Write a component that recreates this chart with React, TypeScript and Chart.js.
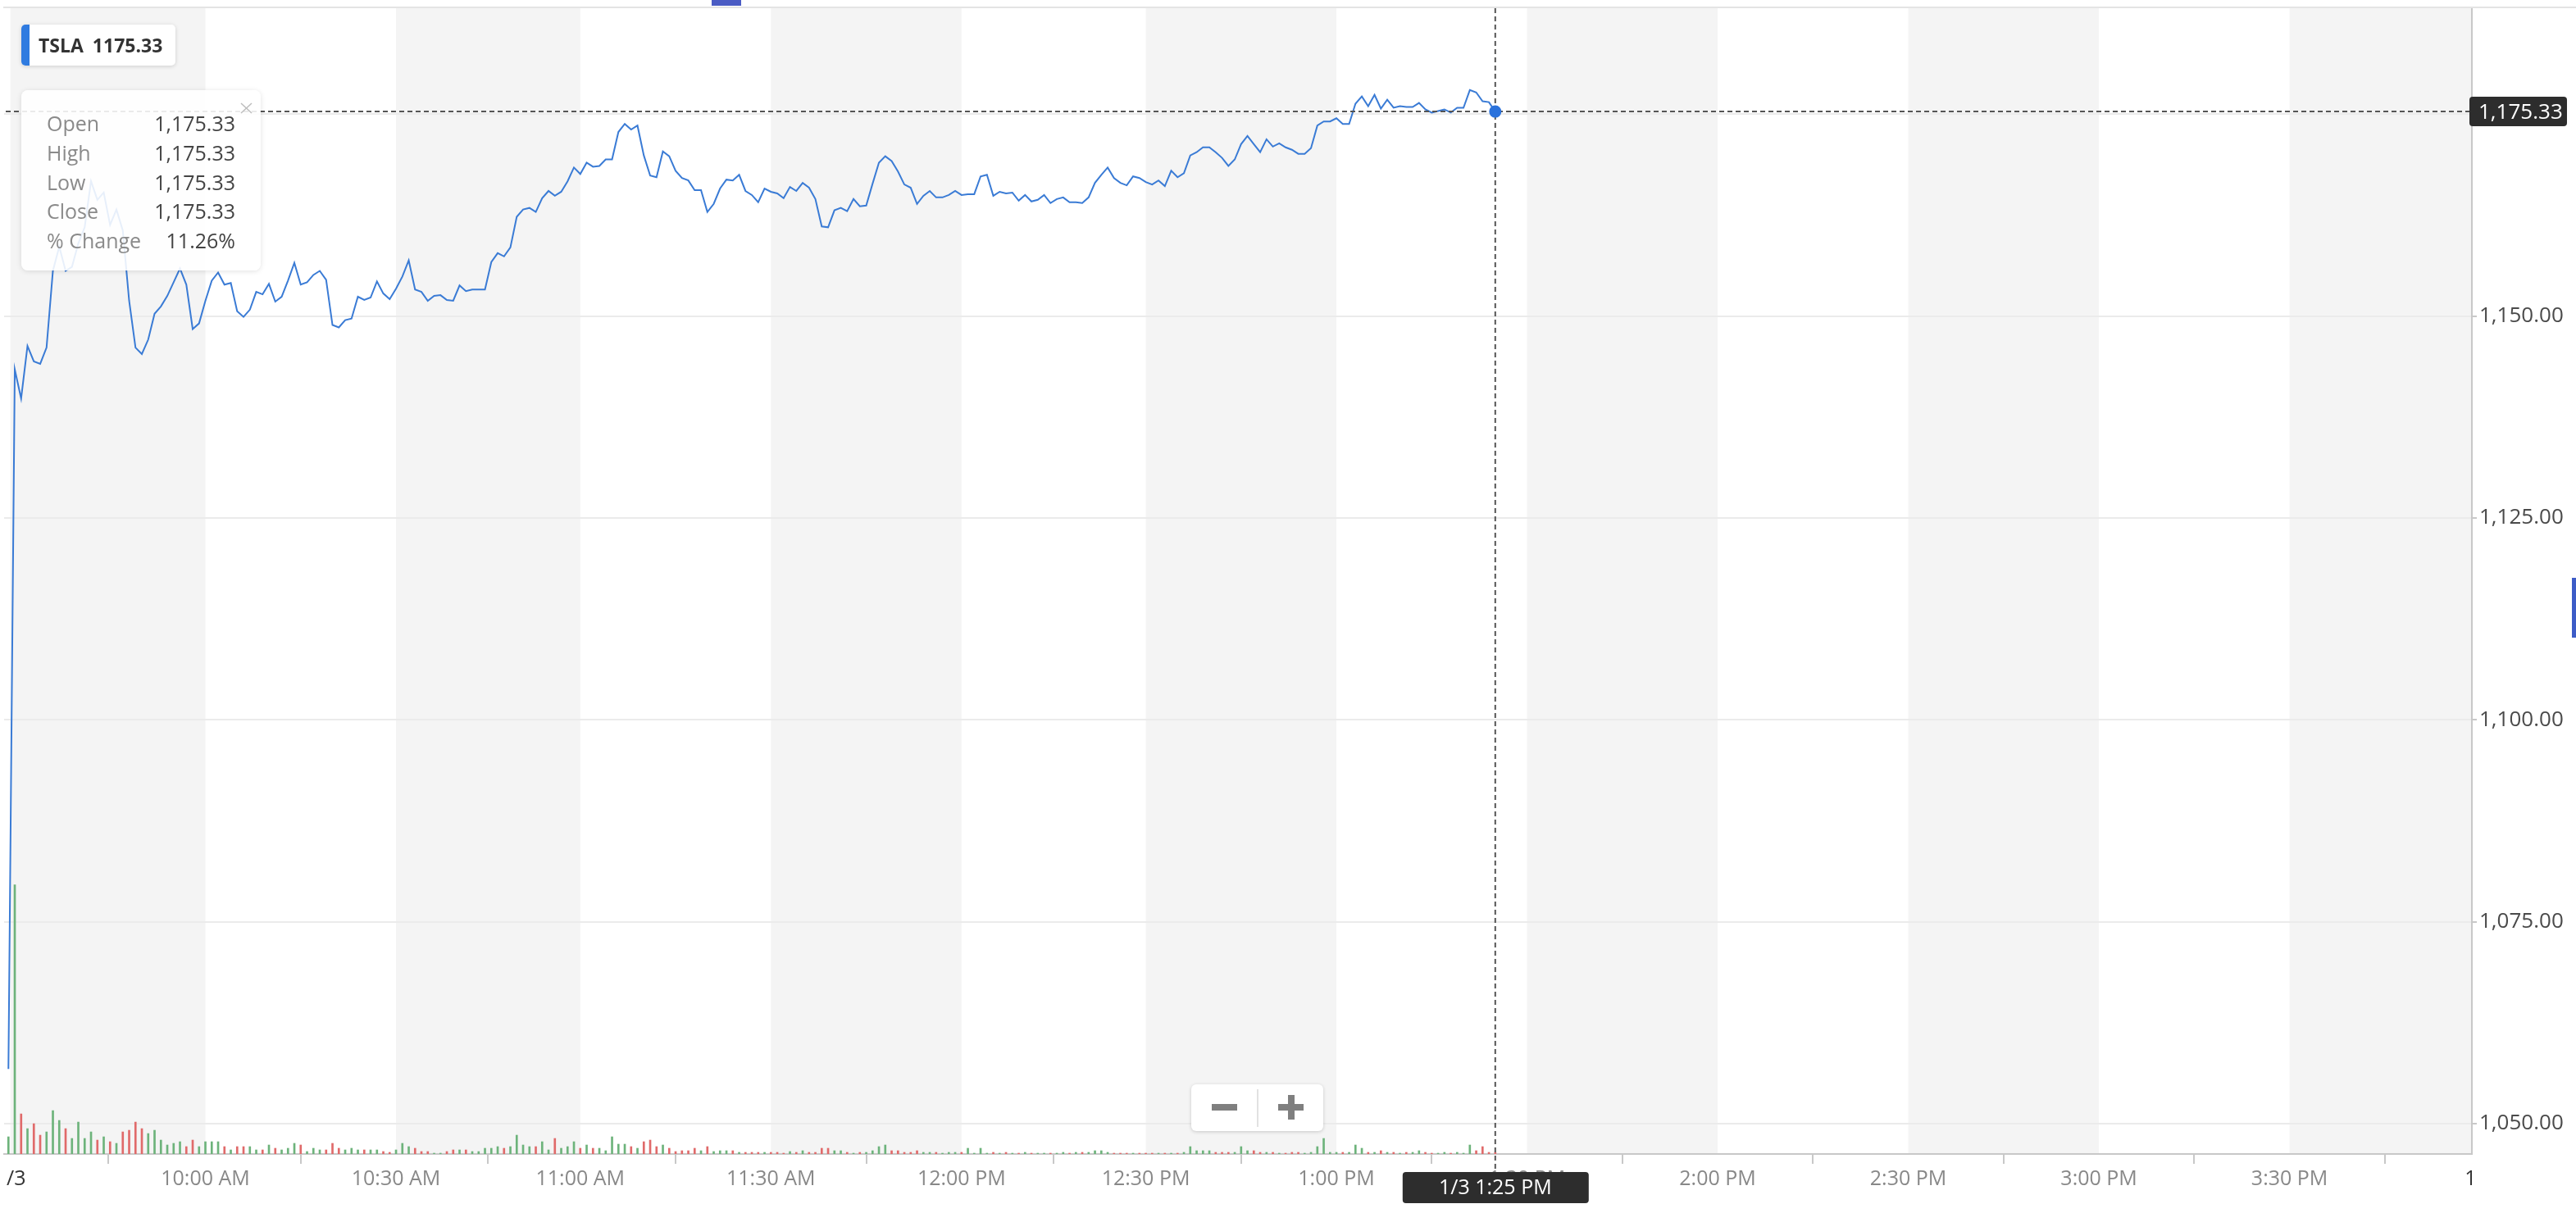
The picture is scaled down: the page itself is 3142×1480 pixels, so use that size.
import React, { useEffect, useRef } from 'react';
import { Chart, registerables } from 'chart.js';

Chart.register(...registerables);

// ---------------- data ----------------
const SYMBOL = 'TSLA';
const CROSSHAIR_TIME = '1/3 1:25 PM';
const PCT_CHANGE = '11.26%';

// bar index of the first price (previous close, one bar before the 9:30 open)
const FIRST_BAR = -1;

// 1-minute closes, previous close then 9:30 AM .. 1:25 PM
const prices = [
  1056.78,
  1143.4, 1139.8, 1146.3, 1144.4, 1144.1, 1146.1, 1155.6, 1158.6, 1155.6, 1156.1,
  1159.0, 1161.0, 1166.7, 1164.4, 1165.3, 1161.3, 1163.2, 1160.6, 1151.9, 1146.1,
  1145.3, 1147.1, 1150.3, 1151.2, 1152.5, 1154.2, 1155.9, 1153.9, 1148.4, 1149.1,
  1151.9, 1154.4, 1155.4, 1153.9, 1154.1, 1150.6, 1149.9, 1150.8, 1153.0, 1152.7,
  1154.0, 1151.8, 1152.4, 1154.4, 1156.6, 1153.9, 1154.2, 1155.1, 1155.6, 1154.5,
  1148.9, 1148.6, 1149.5, 1149.7, 1152.4, 1152.0, 1152.3, 1154.3, 1152.8, 1152.1,
  1153.4, 1154.9, 1156.9, 1153.3, 1153.0, 1151.9, 1152.5, 1152.6, 1152.0, 1151.9,
  1153.8, 1153.1, 1153.3, 1153.3, 1153.3, 1156.7, 1157.8, 1157.4, 1158.5, 1162.3,
  1163.2, 1163.4, 1162.9, 1164.6, 1165.5, 1164.9, 1165.4, 1166.7, 1168.4,
  1167.6, 1169.0, 1168.5, 1168.6, 1169.4, 1169.4, 1172.8, 1173.8, 1173.1, 1173.6,
  1169.9, 1167.4, 1167.2, 1170.4, 1169.8, 1168.0, 1167.1, 1166.8, 1165.6, 1165.6,
  1162.9, 1163.9, 1165.8, 1166.9, 1166.8, 1167.5, 1165.5, 1165.0, 1164.1, 1165.8,
  1165.4, 1165.2, 1164.6, 1166.0, 1165.5, 1166.5, 1165.9, 1164.5, 1161.1, 1161.0,
  1163.1, 1163.4, 1163.0, 1164.5, 1163.6, 1163.7, 1166.4, 1169.0, 1169.8, 1169.2,
  1167.9, 1166.3, 1165.9, 1163.9, 1164.9, 1165.5, 1164.7, 1164.7, 1165.0, 1165.5,
  1165.0, 1165.1, 1165.1, 1167.3, 1167.5, 1164.9, 1165.4, 1165.2, 1165.3, 1164.3,
  1165.0, 1164.2, 1164.4, 1165.0, 1164.0, 1164.5, 1164.7, 1164.1, 1164.1, 1164.0,
  1164.7, 1166.5, 1167.5, 1168.4, 1167.1, 1166.5, 1166.2, 1167.3, 1167.1, 1166.6,
  1166.3, 1166.8, 1166.1, 1168.0, 1167.2, 1167.7, 1169.9, 1170.3, 1170.9, 1170.9,
  1170.3, 1169.6, 1168.6, 1169.4, 1171.3, 1172.3, 1171.3, 1170.3, 1171.9, 1171.0,
  1171.4, 1170.9, 1170.6, 1170.1, 1170.1, 1170.8, 1173.6, 1174.1, 1174.1, 1174.5,
  1173.8, 1173.8, 1176.3, 1177.2, 1176.0, 1177.4, 1175.7, 1176.8, 1175.8, 1176.0,
  1175.9, 1175.9, 1176.4, 1175.6, 1175.2, 1175.4, 1175.6, 1175.2, 1175.8, 1175.8,
  1178.0, 1177.7, 1176.6, 1176.5, 1175.33,
];

// volume per bar, thousands of shares
const volumesK = [
  63, 987, 147, 93, 111, 69, 81, 159, 123, 93,
  57, 117, 57, 81, 51, 63, 45, 39, 81, 87,
  117, 93, 75, 87, 51, 33, 39, 45, 27, 51,
  27, 45, 45, 45, 27, 15, 27, 27, 27, 15,
  15, 33, 21, 15, 21, 39, 33, 9, 21, 15,
  15, 39, 21, 15, 21, 15, 15, 15, 15, 9,
  6, 15, 39, 27, 21, 9, 9, 3, 3, 9,
  15, 15, 15, 9, 9, 21, 21, 27, 21, 27,
  69, 33, 27, 27, 45, 15, 57, 21, 27, 45,
  21, 33, 21, 21, 12, 63, 36, 36, 27, 21,
  45, 51, 27, 33, 21, 9, 12, 12, 21, 12,
  27, 9, 12, 12, 12, 6, 6, 6, 6, 6,
  6, 6, 3, 9, 6, 12, 6, 6, 21, 21,
  12, 12, 6, 3, 6, 6, 12, 27, 33, 12,
  12, 6, 6, 12, 6, 6, 6, 3, 6, 6,
  6, 21, 3, 21, 3, 6, 3, 6, 3, 3,
  6, 3, 3, 3, 3, 3, 6, 3, 6, 6,
  6, 12, 12, 6, 3, 3, 3, 3, 3, 3,
  3, 3, 3, 3, 3, 6, 27, 12, 12, 12,
  6, 6, 6, 6, 27, 12, 12, 6, 6, 6,
  3, 3, 6, 6, 3, 6, 27, 57, 6, 6,
  6, 6, 33, 21, 6, 6, 12, 6, 6, 3,
  6, 6, 12, 6, 3, 3, 6, 3, 6, 3,
  33, 12, 27, 6, 6,
];

// session boundaries / time ticks, as bar indices (1 bar = 1 minute)
const xTickBars = [-0.7, 30, 60, 89, 119, 149, 178, 208, 238, 268, 298, 328, 358, 388];
const xTickLabels = ['1/3', '10:00 AM', '10:30 AM', '11:00 AM', '11:30 AM', '12:00 PM', '12:30 PM',
  '1:00 PM', '1:30 PM', '2:00 PM', '2:30 PM', '3:00 PM', '3:30 PM', '1/4'];
const dateTickLabels = ['1/3', '1/4'];

const yTickValues = [1050, 1075, 1100, 1125, 1150, 1175];

// ---------------- helpers ----------------
const FONT = '"Open Sans", "Noto Sans", sans-serif';
const fmt = (v: number) => v.toLocaleString('en-US', { minimumFractionDigits: 2, maximumFractionDigits: 2 });
const lastIdx = prices.length - 1;
const lastPrice = prices[lastIdx];
const lastBar = FIRST_BAR + lastIdx;

const X_MIN = -1.68;
const X_MAX = 386.7;
const Y_MIN = 1046.25;
const Y_MAX = 1188.13;

const isDateTick = (i: number) => i >= 0 && dateTickLabels.includes(xTickLabels[i]);

const bandsPlugin = {
  id: 'bands',
  beforeDraw(chart: any) {
    const { ctx, chartArea, scales } = chart;
    const { top, bottom, left, right } = chartArea;
    const x = scales.x;
    ctx.save();
    ctx.fillStyle = '#ffffff';
    ctx.fillRect(0, 0, chart.width, chart.height);
    ctx.beginPath();
    ctx.rect(left, top, right - left, bottom - top);
    ctx.clip();
    ctx.fillStyle = '#f4f4f4';
    for (let k = 0; k < xTickBars.length - 1; k += 2) {
      const x0 = x.getPixelForValue(xTickBars[k]);
      const x1 = x.getPixelForValue(xTickBars[k + 1]);
      ctx.fillRect(x0, top, x1 - x0, bottom - top);
    }
    ctx.restore();
  },
};

const crosshairPlugin = {
  id: 'crosshair',
  afterDraw(chart: any) {
    const { ctx, chartArea, scales } = chart;
    const { top, bottom, left, right } = chartArea;
    const x = scales.x;
    const y = scales.y;
    const px = x.getPixelForValue(lastBar);
    const py = y.getPixelForValue(lastPrice);

    ctx.save();
    // date labels, clipped to the plot's horizontal extent
    ctx.save();
    ctx.beginPath();
    ctx.rect(left, bottom, right - left, chart.height - bottom);
    ctx.clip();
    ctx.font = `25px ${FONT}`;
    ctx.fillStyle = '#333333';
    ctx.textAlign = 'center';
    ctx.textBaseline = 'middle';
    xTickBars.forEach((b, i) => {
      if (isDateTick(i)) ctx.fillText(xTickLabels[i], x.getPixelForValue(b), bottom + 31);
    });
    ctx.restore();

    ctx.setLineDash([6, 4]);
    ctx.strokeStyle = '#555555';
    ctx.lineWidth = 2;
    ctx.beginPath();
    ctx.moveTo(left + 2, py);
    ctx.lineTo(right, py);
    ctx.stroke();
    ctx.beginPath();
    ctx.moveTo(px, top);
    ctx.lineTo(px, bottom + 22);
    ctx.stroke();
    ctx.setLineDash([]);

    // dot
    ctx.fillStyle = '#2a72dc';
    ctx.beginPath();
    ctx.arc(px, py, 7.5, 0, Math.PI * 2);
    ctx.fill();

    // price label on the right axis
    ctx.fillStyle = '#2d2d2d';
    ctx.beginPath();
    (ctx as any).roundRect(right - 3, py - 18, 119, 36, 4);
    ctx.fill();
    ctx.fillStyle = '#ffffff';
    ctx.font = `26px ${FONT}`;
    ctx.textAlign = 'left';
    ctx.textBaseline = 'middle';
    ctx.fillText(fmt(lastPrice), right + 8, py + 1);

    // time label at the bottom
    ctx.fillStyle = '#2d2d2d';
    ctx.beginPath();
    (ctx as any).roundRect(px - 113, bottom + 22, 227, 38, 4);
    ctx.fill();
    ctx.fillStyle = '#ffffff';
    ctx.font = `25px ${FONT}`;
    ctx.textAlign = 'center';
    ctx.fillText(CROSSHAIR_TIME, px, bottom + 42);
    ctx.restore();
  },
};

function buildConfig(): any {
  const lineData = prices.map((p, i) => ({ x: FIRST_BAR + i, y: p }));
  const volData = volumesK.map((v, i) => ({ x: FIRST_BAR + i, y: v }));
  const volColors = prices.map((p, i) => (i === 0 || p >= prices[i - 1] ? '#6db37b' : '#e06a6a'));
  return {
    type: 'line',
    data: {
      datasets: [
        {
          type: 'line',
          label: SYMBOL,
          data: lineData,
          borderColor: '#3a7bd5',
          borderWidth: 2,
          pointRadius: 0,
          tension: 0,
          yAxisID: 'y',
          order: 0,
        },
        {
          type: 'bar',
          label: 'Volume',
          data: volData,
          backgroundColor: volColors,
          barThickness: 2,
          yAxisID: 'yVol',
          order: 1,
        },
      ],
    },
    options: {
      responsive: false,
      devicePixelRatio: 1,
      animation: false,
      events: [],
      layout: { padding: { left: 5, top: 10, right: 0, bottom: 0 } },
      plugins: { legend: { display: false }, tooltip: { enabled: false } },
      scales: {
        x: {
          type: 'linear',
          min: X_MIN,
          max: X_MAX,
          offset: false,
          afterBuildTicks: (scale: any) => {
            scale.ticks = xTickBars
              .filter((v) => v >= X_MIN && v <= X_MAX)
              .map((v) => ({ value: v }));
          },
          afterFit: (scale: any) => {
            scale.height = 72;
            scale.paddingLeft = 0;
            scale.paddingRight = 0;
          },
          ticks: {
            autoSkip: false,
            maxRotation: 0,
            padding: 4,
            font: { family: FONT, size: 25 },
            color: '#888888',
            callback: (v: any) => {
              const i = xTickBars.indexOf(Number(v));
              return i >= 0 && !isDateTick(i) ? xTickLabels[i] : '';
            },
          },
          grid: {
            display: true,
            drawOnChartArea: false,
            drawTicks: true,
            tickLength: 12,
            color: '#c8c8c8',
            lineWidth: 2,
          },
          border: { display: true, color: '#c8c8c8', width: 2 },
        },
        y: {
          type: 'linear',
          position: 'right',
          min: Y_MIN,
          max: Y_MAX,
          afterBuildTicks: (scale: any) => {
            scale.ticks = yTickValues.map((v) => ({ value: v }));
          },
          afterFit: (scale: any) => {
            scale.width = 127;
            scale.paddingTop = 0;
            scale.paddingBottom = 0;
          },
          ticks: {
            padding: 3,
            font: { family: FONT, size: 26 },
            color: '#4a4a4a',
            callback: (v: any) => fmt(Number(v)),
          },
          grid: {
            color: '#ebebeb',
            lineWidth: 2,
            drawTicks: true,
            tickLength: 6,
            tickColor: '#c8c8c8',
          },
          border: { display: true, color: '#c8c8c8', width: 2 },
        },
        yVol: {
          type: 'linear',
          display: false,
          min: 0,
          max: 4200,
        },
      },
    },
    plugins: [bandsPlugin, crosshairPlugin],
  };
}

const tooltipRows: [string, string][] = [
  ['Open', fmt(lastPrice)],
  ['High', fmt(lastPrice)],
  ['Low', fmt(lastPrice)],
  ['Close', fmt(lastPrice)],
  ['% Change', PCT_CHANGE],
];

export default function App() {
  const ref = useRef<HTMLCanvasElement | null>(null);
  useEffect(() => {
    document.body.style.margin = '0';
    if (!ref.current) return;
    const chart = new Chart(ref.current, buildConfig());
    return () => chart.destroy();
  }, []);

  return (
    <div
      style={{
        position: 'fixed',
        left: 0,
        top: 0,
        width: 3142,
        height: 1480,
        overflow: 'hidden',
        background: '#ffffff',
        fontFamily: FONT,
      }}
    >
      <canvas
        ref={ref}
        width={3142}
        height={1480}
        style={{ position: 'absolute', left: 0, top: 0, width: 3142, height: 1480 }}
      />
      {/* top border */}
      <div style={{ position: 'absolute', left: 4, top: 8, width: 3138, height: 2, background: '#e4e4e4' }} />
      <div style={{ position: 'absolute', left: 868, top: 0, width: 36, height: 7, background: '#4b5cc4' }} />
      <div style={{ position: 'absolute', left: 3137, top: 705, width: 5, height: 73, background: '#3d5cc7' }} />

      {/* series legend */}
      <div
        style={{
          position: 'absolute',
          left: 26,
          top: 30,
          width: 188,
          height: 50,
          background: '#ffffff',
          borderRadius: 5,
          boxShadow: '0 1px 5px rgba(0,0,0,0.16)',
          display: 'flex',
          alignItems: 'center',
        }}
      >
        <div
          style={{
            position: 'absolute',
            left: 0,
            top: 0,
            width: 10,
            height: 50,
            background: '#2f7be0',
            borderRadius: '5px 0 0 5px',
          }}
        />
        <span style={{ marginLeft: 21, fontWeight: 700, fontSize: 23, color: '#333333' }}>{SYMBOL}</span>
        <span style={{ marginLeft: 11, fontWeight: 700, fontSize: 23, color: '#333333' }}>{lastPrice.toFixed(2)}</span>
      </div>

      {/* OHLC tooltip */}
      <div
        style={{
          position: 'absolute',
          left: 26,
          top: 110,
          width: 292,
          height: 220,
          background: 'rgba(255,255,255,0.88)',
          borderRadius: 8,
          boxShadow: '0 1px 6px rgba(0,0,0,0.12)',
        }}
      >
        <svg style={{ position: 'absolute', left: 267, top: 15 }} width={15} height={14}>
          <line x1={1} y1={1} x2={14} y2={13} stroke="#bdbdbd" strokeWidth={1.5} />
          <line x1={14} y1={1} x2={1} y2={13} stroke="#bdbdbd" strokeWidth={1.5} />
        </svg>
        {tooltipRows.map(([k, v], i) => (
          <div
            key={k}
            style={{
              position: 'absolute',
              left: 31,
              right: 31,
              top: 22 + i * 35.8,
              height: 36,
              lineHeight: '36px',
              fontSize: 25,
              display: 'flex',
              justifyContent: 'space-between',
            }}
          >
            <span style={{ color: '#8a8a8a' }}>{k}</span>
            <span style={{ color: '#444444' }}>{v}</span>
          </div>
        ))}
      </div>

      {/* zoom buttons */}
      <div
        style={{
          position: 'absolute',
          left: 1453,
          top: 1323,
          width: 161,
          height: 57,
          background: '#ffffff',
          borderRadius: 6,
          boxShadow: '0 1px 4px rgba(0,0,0,0.18)',
        }}
      >
        <div style={{ position: 'absolute', left: 80, top: 6, width: 2, height: 46, background: '#e2e2e2' }} />
        <div style={{ position: 'absolute', left: 25, top: 24, width: 31, height: 8, background: '#7f7f7f' }} />
        <div style={{ position: 'absolute', left: 106, top: 24, width: 31, height: 8, background: '#7f7f7f' }} />
        <div style={{ position: 'absolute', left: 118, top: 13, width: 8, height: 30, background: '#7f7f7f' }} />
      </div>
    </div>
  );
}
